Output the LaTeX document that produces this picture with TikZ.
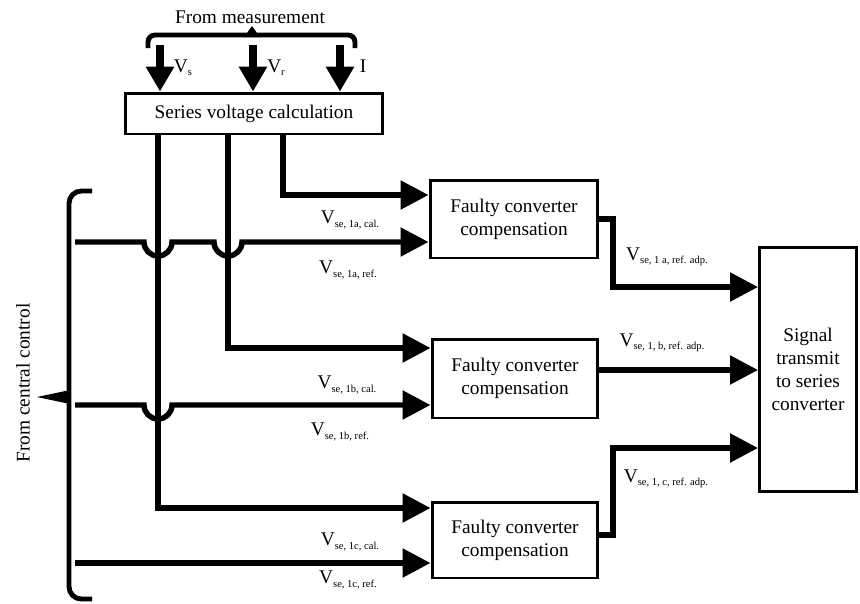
\documentclass[tikz,border=0pt]{standalone}
\usepackage{fontspec}
\setmainfont{Liberation Serif}
\usetikzlibrary{arrows.meta,calc,positioning}

% V mit kleinem Index
\newcommand{\Vsub}[1]{V\raisebox{-0.35ex}{\fontsize{6}{6}\selectfont #1}}

\begin{document}
\begin{tikzpicture}[x=0.02cm,y=-0.02cm,
  font=\fontsize{11}{13}\selectfont,
  blk/.style={draw,line width=1.7pt,align=center,inner sep=0pt},
  sig/.style={line width=3.1pt,-{Triangle[length=0.56cm,width=0.56cm]}},
  mess/.style={line width=4.5pt,-{Triangle[length=0.5cm,width=0.54cm]}},
  klammer/.style={line width=2.8pt,rounded corners=7pt}]
\useasboundingbox (0,0) rectangle (860,603);

%Bloecke
\node[blk,minimum width=5.16cm,minimum height=0.82cm] (calc) at (254,113.5) {Series voltage calculation};
\node[blk,minimum width=3.36cm,minimum height=1.56cm] (comp1) at (514,219) {Faulty converter\\compensation};
\node[blk,minimum width=3.32cm,minimum height=1.58cm] (comp2) at (515,378.5) {Faulty converter\\compensation};
\node[blk,minimum width=3.32cm,minimum height=1.52cm] (comp3) at (515,540) {Faulty converter\\compensation};
\node[blk,minimum width=1.94cm,minimum height=4.9cm] (signal) at (808,369.5) {Signal\\transmit\\to series\\converter};

%Messwerte oben
\node (meas) at (250,17) {From measurement};
\draw[klammer,rounded corners=4pt] (148,48) -- (148,35) -- (355,35) -- (355,48);
\fill (244,37) -- (252,26) -- (260,37) -- cycle;
\foreach \xm/\nm in {160/ms,253/mr,340/mi}{
  \coordinate (\nm) at (\xm,45);
  \draw[mess] (\nm) -- (calc.north -| \nm);
}
\node (lvs) at (183,68) {\Vsub{s}};
\node (lvr) at (276,68) {\Vsub{r}};
\node (li) at (363,66) {I};

%Zentrale Regelung links
\node[rotate=90] (cc) at (23,383) {From central control};
\draw[klammer] (92,191) -- (69,191) -- (69,599) -- (92,599);
\fill (70,390) -- (37,397) -- (70,404) -- cycle;

\coordinate (ta) at (158,134);
\coordinate (tb) at (228,134);
\coordinate (tc) at (283,134);
\coordinate (la) at (75,242);
\coordinate (lb) at (75,405);
\coordinate (lc) at (75,563);
\coordinate (ra) at (0,195);
\coordinate (rb) at (0,348);
\coordinate (rc) at (0,508);

\draw[sig] (tc) |- (comp1.west |- ra);
\draw[sig] (tb) |- (comp2.west |- rb);
\draw[sig] (ta) |- (comp3.west |- rc);
\draw[sig] (la) -- (144,242) arc (180:0:14) -- (214,242) arc (180:0:14) -- (comp1.west |- la);
\draw[sig] (lb) -- (144,405) arc (180:0:14) -- (comp2.west |- lb);
\draw[sig] (lc) -- (comp3.west |- lc);

%Ausgaenge
\coordinate (oa) at (613,287);
\coordinate (ob) at (0,370);
\coordinate (oc0) at (0,535);
\coordinate (oc) at (613,448);
\draw[sig] (comp1.east) -| (oa) -- (signal.west |- oa);
\draw[sig] (comp2.east |- ob) -- (signal.west |- ob);
\draw[sig] (comp3.east |- oc0) -| (oc) -- (signal.west |- oc);

%Beschriftungen
\node (l1c) at (350,220) {\Vsub{se, 1a, cal.}};
\node (l1r) at (348,270) {\Vsub{se, 1a, ref.}};
\node (l2c) at (347,385) {\Vsub{se, 1b, cal.}};
\node (l2r) at (340,432) {\Vsub{se, 1b, ref.}};
\node (l3c) at (350,542) {\Vsub{se, 1c, cal.}};
\node (l3r) at (348,580) {\Vsub{se, 1c, ref.}};
\node (o1) at (667,257) {\Vsub{se, 1 a, ref. adp.}};
\node (o2) at (662,343) {\Vsub{se, 1, b, ref. adp.}};
\node (o3) at (666,479) {\Vsub{se, 1, c, ref. adp.}};
\end{tikzpicture}
\end{document}
